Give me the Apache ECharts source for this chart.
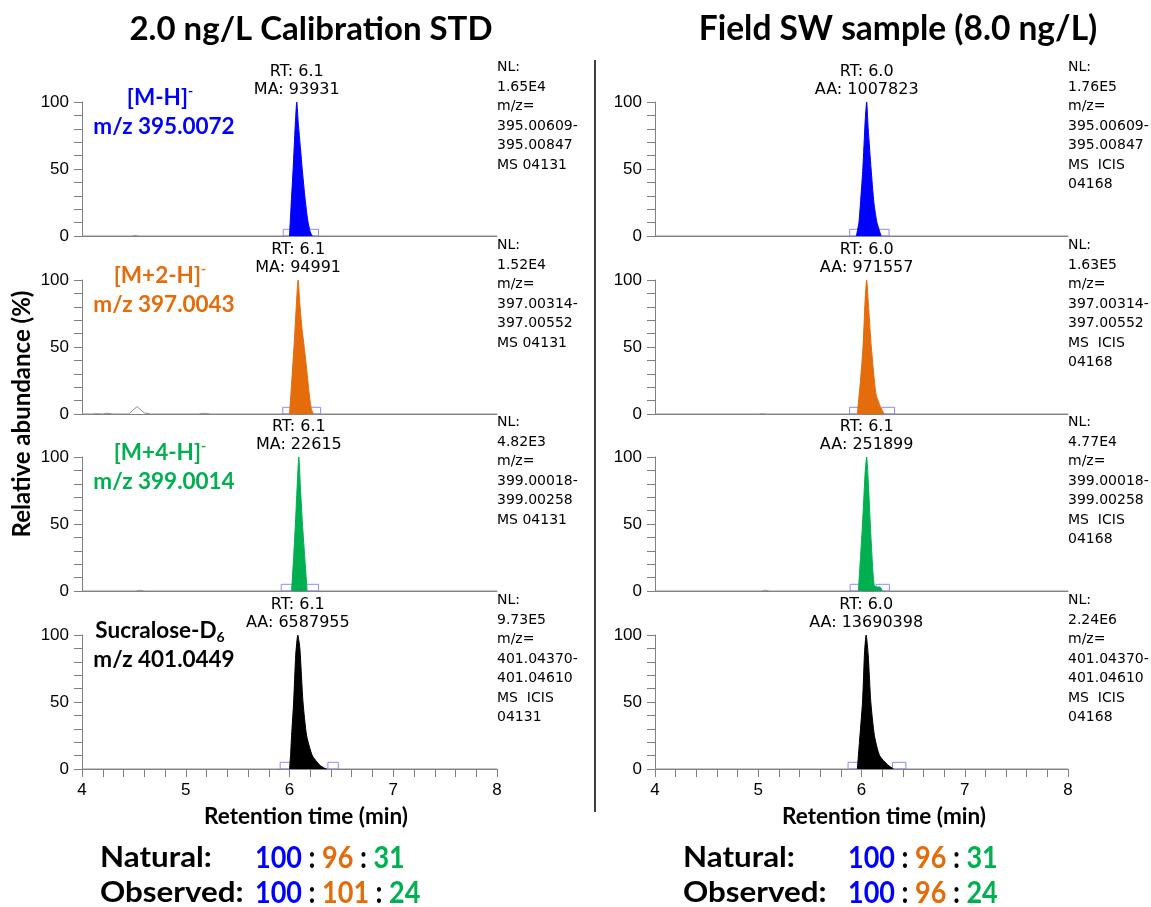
<!DOCTYPE html>
<html>
<head>
<meta charset="utf-8">
<script src="https://cdn.jsdelivr.net/npm/echarts@6/dist/echarts.min.js"></script>
<style>
  html, body { margin: 0; padding: 0; background: #fff; }
  #chart { width: 1151px; height: 907px; }
</style>
</head>
<body>
<div id="chart"></div>
<script>
// 2.0 ng/L Calibration STD (left column), peak traces [time, %]
const calMH = [[6.0,0],[6.015,22],[6.035,50],[6.055,82],[6.07,100],[6.085,84],[6.105,66],[6.125,48],[6.15,28],[6.175,12],[6.2,3],[6.22,0]];
const calM2 = [[6.0,0],[6.02,22],[6.047,55],[6.065,80],[6.083,100],[6.1,82],[6.12,64],[6.145,48],[6.17,30],[6.19,15],[6.21,4],[6.23,0]];
const calM4 = [[6.02,0],[6.04,25],[6.06,55],[6.075,80],[6.09,100],[6.105,78],[6.125,50],[6.15,22],[6.17,0]];
const calD6 = [[6.0,0],[6.01,10],[6.02,25],[6.04,50],[6.06,85],[6.08,100],[6.1,90],[6.13,50],[6.165,25],[6.22,10],[6.29,3],[6.34,0.5],[6.36,0]];

// Field SW sample (right column)
const swMH = [[5.95,0],[5.975,10],[5.995,30],[6.013,50],[6.035,85],[6.05,100],[6.065,80],[6.093,50],[6.12,25],[6.15,10],[6.19,0]];
const swM2 = [[5.96,0],[5.99,25],[6.015,50],[6.035,85],[6.05,100],[6.07,78],[6.095,50],[6.14,15],[6.185,5],[6.22,0]];
const swM4 = [[5.97,0],[5.99,25],[6.01,50],[6.035,88],[6.05,100],[6.07,75],[6.085,50],[6.11,15],[6.125,4],[6.15,3],[6.18,3],[6.2,0]];
const swD6 = [[5.96,0],[5.98,20],[6.01,50],[6.03,88],[6.045,100],[6.065,85],[6.09,50],[6.125,25],[6.175,10],[6.255,3],[6.31,0]];

// baseline / noise traces
const calMHNoise = [[4,0],[4.48,0],[4.51,0.4],[4.55,0],[8,0]];
const calM2Noise = [[4,0],[4.1,0],[4.14,0.3],[4.2,0],[4.24,0.6],[4.3,0],[4.45,0],[4.53,5.5],[4.6,0.8],[4.66,0],[5.12,0],[5.18,0.5],[5.24,0],[8,0]];
const calM4Noise = [[4,0],[4.52,0],[4.55,0.6],[4.6,0],[8,0]];
const calD6Noise = [[4,0],[8,0]];
const swMHNoise = [[4,0],[8,0]];
const swM2Noise = [[4,0],[5.0,0],[5.04,0.3],[5.08,0],[8,0]];
const swM4Noise = [[4,0],[5.03,0],[5.07,0.6],[5.11,0],[8,0]];
const swD6Noise = [[4,0],[8,0]];

// peak integration boundary boxes [start, end] (min), box height in %
const calBoxes = [[[5.94,6.085],[6.16,6.28]], [[5.935,6.06],[6.17,6.3]], [[5.92,6.05],[6.15,6.28]], [[5.91,6.04],[6.37,6.47]]];
const swBoxes = [[[5.885,6.267]], [[5.885,6.01],[6.195,6.32]], [[5.89,6.02],[6.14,6.27]], [[5.87,5.99],[6.3,6.43]]];
const boxHeight = 5;

const calNotes = ['RT: 6.1\nMA: 93931', 'RT: 6.1\nMA: 94991', 'RT: 6.1\nMA: 22615', 'RT: 6.1\nAA: 6587955'];
const swNotes = ['RT: 6.0\nAA: 1007823', 'RT: 6.0\nAA: 971557', 'RT: 6.1\nAA: 251899', 'RT: 6.0\nAA: 13690398'];

const calInfo = [
  ['NL:', '1.65E4', 'm/z=', '395.00609-', '395.00847', 'MS 04131'],
  ['NL:', '1.52E4', 'm/z=', '397.00314-', '397.00552', 'MS 04131'],
  ['NL:', '4.82E3', 'm/z=', '399.00018-', '399.00258', 'MS 04131'],
  ['NL:', '9.73E5', 'm/z=', '401.04370-', '401.04610', 'MS  ICIS', '04131']
];
const swInfo = [
  ['NL:', '1.76E5', 'm/z=', '395.00609-', '395.00847', 'MS  ICIS', '04168'],
  ['NL:', '1.63E5', 'm/z=', '397.00314-', '397.00552', 'MS  ICIS', '04168'],
  ['NL:', '4.77E4', 'm/z=', '399.00018-', '399.00258', 'MS  ICIS', '04168'],
  ['NL:', '2.24E6', 'm/z=', '401.04370-', '401.04610', 'MS  ICIS', '04168']
];

const ionNames = ['{n|[M-H]}{sup|-}', '{n|[M+2-H]}{sup|-}', '{n|[M+4-H]}{sup|-}', '{n|Sucralose-D}{sub|6}'];
const ionMz = ['m/z 395.0072', 'm/z 397.0043', 'm/z 399.0014', 'm/z 401.0449'];
const ionColors = ['#0000ff', '#e46c0a', '#00b050', '#000000'];

const naturalRatio = [100, 96, 31];
const calObserved = [100, 101, 24];
const swObserved = [100, 96, 24];

const calPeaks = [calMH, calM2, calM4, calD6];
const swPeaks = [swMH, swM2, swM4, swD6];
const calNoise = [calMHNoise, calM2Noise, calM4Noise, calD6Noise];
const swNoise = [swMHNoise, swM2Noise, swM4Noise, swD6Noise];

const chart = echarts.init(document.getElementById('chart'));

const rowTops = [102, 280, 457, 635];
const rowH = 134;
const cols = [{ left: 82, width: 415 }, { left: 655, width: 413 }];
const arial = 'Liberation Sans, Arial, sans-serif';
const wide = 'DejaVu Sans, sans-serif';
const calib = 'Lato, Open Sans, sans-serif';

const grids = [], xAxes = [], yAxes = [], series = [], graphics = [];

cols.forEach((c, ci) => {
  rowTops.forEach((top, ri) => {
    const idx = grids.length;
    const last = ri === 3;
    grids.push({ left: c.left, width: c.width, top: top, height: rowH });
    xAxes.push({
      gridIndex: idx, type: 'value', min: 4, max: 8, interval: 0.2,
      axisLine: { show: true, lineStyle: { color: '#808080', width: 1 } },
      axisTick: { show: last, length: 8, lineStyle: { color: '#808080' } },
      axisLabel: {
        show: last, fontSize: 17, color: '#000', fontFamily: arial, margin: 13,
        formatter: v => (Math.abs(v - Math.round(v)) < 1e-6 ? String(Math.round(v)) : '')
      },
      splitLine: { show: false }
    });
    yAxes.push({
      gridIndex: idx, type: 'value', min: 0, max: 100, interval: 10,
      axisLine: { show: true, lineStyle: { color: '#808080', width: 1 } },
      axisTick: { show: true, length: 8, lineStyle: { color: '#808080' } },
      axisLabel: {
        fontSize: 17, color: '#000', fontFamily: arial, margin: 13,
        formatter: v => (v % 50 === 0 ? String(v) : '')
      },
      splitLine: { show: false }
    });

    const peaks = ci === 0 ? calPeaks : swPeaks;
    const noise = ci === 0 ? calNoise : swNoise;
    const boxes = ci === 0 ? calBoxes : swBoxes;
    const notes = ci === 0 ? calNotes : swNotes;

    series.push({
      type: 'line', xAxisIndex: idx, yAxisIndex: idx, data: noise[ri],
      symbol: 'none', lineStyle: { color: '#8c8c8c', width: 1 }, z: 2, silent: true
    });
    series.push({
      type: 'line', xAxisIndex: idx, yAxisIndex: idx, data: peaks[ri],
      symbol: 'none', smooth: 0.2,
      lineStyle: { color: ionColors[ri], width: 1 },
      areaStyle: { color: ionColors[ri], opacity: 1 },
      z: 3, silent: true,
      markPoint: {
        symbol: 'circle', symbolSize: 0, silent: true,
        data: [{ type: 'max' }],
        label: {
          show: true, position: 'top', distance: 3, formatter: notes[ri],
          color: '#000', fontSize: 16, lineHeight: 18, fontFamily: wide
        }
      },
      markArea: {
        silent: true,
        itemStyle: { color: 'rgba(0,0,0,0)', borderColor: '#8a8aff', borderWidth: 1 },
        data: boxes[ri].map(b => [{ xAxis: b[0], yAxis: 0 }, { xAxis: b[1], yAxis: boxHeight }])
      }
    });

    // NL / m/z info block right of each panel
    const info = ci === 0 ? calInfo : swInfo;
    graphics.push({
      type: 'text', left: c.left + c.width, top: top - 44,
      style: { text: info[ri].join('\n'), font: '14px ' + wide, fill: '#000', lineHeight: 19.5 }
    });
  });
});

// ion labels (left column)
rowTops.forEach((top, ri) => {
  graphics.push({
    type: 'text', x: 160, y: top - 4,
    style: {
      text: ionNames[ri], textAlign: 'center', textVerticalAlign: 'middle',
      rich: {
        n: { fontSize: 22.5, fontWeight: 'bold', fontFamily: calib, fill: ionColors[ri], lineHeight: 27 },
        sup: { fontSize: 14, fontWeight: 'bold', fontFamily: calib, fill: ionColors[ri], verticalAlign: 'top', lineHeight: 27 },
        sub: { fontSize: 14, fontWeight: 'bold', fontFamily: calib, fill: ionColors[ri], verticalAlign: 'bottom', lineHeight: 21 }
      }
    }
  });
  graphics.push({
    type: 'text', x: 164, y: top + 25,
    style: {
      text: ionMz[ri], textAlign: 'center', textVerticalAlign: 'middle',
      font: 'bold 22.5px ' + calib, fill: ionColors[ri]
    }
  });
});

// titles
graphics.push({ type: 'text', x: 311, y: 29, style: { text: '2.0 ng/L Calibration STD', textAlign: 'center', textVerticalAlign: 'middle', font: 'bold 33px ' + calib, fill: '#000' } });
graphics.push({ type: 'text', x: 898, y: 29, style: { text: 'Field SW sample (8.0 ng/L)', textAlign: 'center', textVerticalAlign: 'middle', font: 'bold 33.5px ' + calib, fill: '#000' } });

// axis titles
graphics.push({ type: 'text', x: 22, y: 414, rotation: Math.PI / 2, style: { text: 'Relative abundance (%)', textAlign: 'center', textVerticalAlign: 'middle', font: 'bold 24px ' + calib, fill: '#000' } });
graphics.push({ type: 'text', x: 306, y: 817, style: { text: 'Retention time (min)', textAlign: 'center', textVerticalAlign: 'middle', font: 'bold 22.5px ' + calib, fill: '#000' } });
graphics.push({ type: 'text', x: 884, y: 817, style: { text: 'Retention time (min)', textAlign: 'center', textVerticalAlign: 'middle', font: 'bold 22.5px ' + calib, fill: '#000' } });

// divider
graphics.push({ type: 'line', shape: { x1: 595, y1: 60, x2: 595, y2: 812 }, style: { stroke: '#000', lineWidth: 1.5 } });

// isotope ratio summary
const ratioRich = {
  k: { fontSize: 30, fontWeight: 'bold', fontFamily: calib, fill: '#000' },
  c0: { fontSize: 30, fontWeight: 'bold', fontFamily: calib, fill: ionColors[0] },
  c1: { fontSize: 30, fontWeight: 'bold', fontFamily: calib, fill: ionColors[1] },
  c2: { fontSize: 30, fontWeight: 'bold', fontFamily: calib, fill: ionColors[2] }
};
const ratioText = r => `{c0|${r[0]}}{k| : }{c1|${r[1]}}{k| : }{c2|${r[2]}}`;
[
  { x: 100, nx: 255, y: 858, label: 'Natural:', r: naturalRatio },
  { x: 100, nx: 255, y: 893, label: 'Observed:', r: calObserved },
  { x: 683, nx: 848, y: 858, label: 'Natural:', r: naturalRatio },
  { x: 683, nx: 848, y: 893, label: 'Observed:', r: swObserved }
].forEach(o => {
  graphics.push({ type: 'text', x: o.x, y: o.y, scaleX: 1.08, style: { text: o.label, textVerticalAlign: 'middle', font: 'bold 29px ' + calib, fill: '#000' } });
  graphics.push({ type: 'text', x: o.nx, y: o.y, scaleX: 0.9, style: { text: ratioText(o.r), textVerticalAlign: 'middle', rich: ratioRich } });
});

chart.setOption({
  animation: false,
  backgroundColor: '#fff',
  grid: grids,
  xAxis: xAxes,
  yAxis: yAxes,
  series: series,
  graphic: graphics
});
</script>
</body>
</html>
